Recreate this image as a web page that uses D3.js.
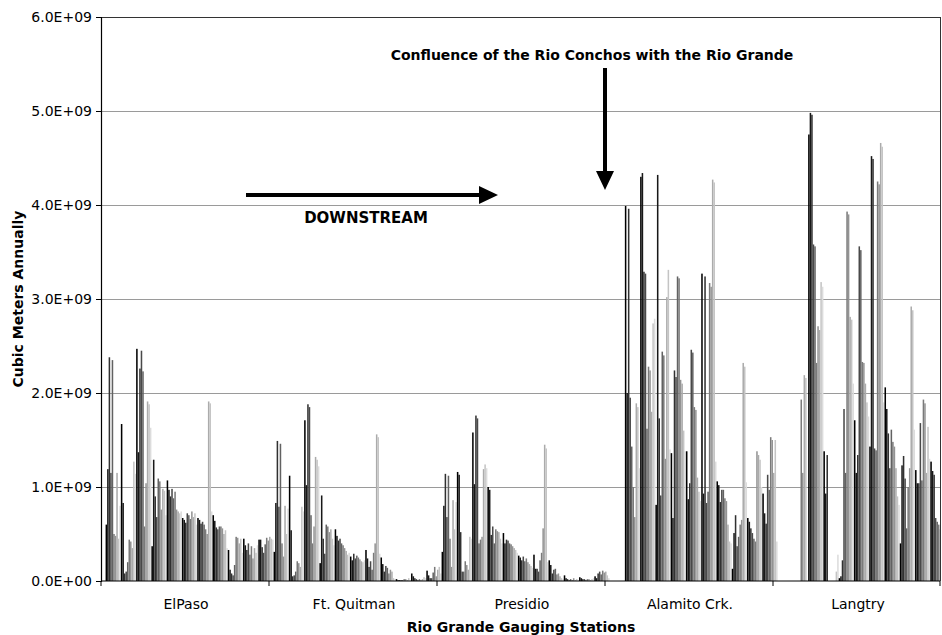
<!DOCTYPE html>
<html><head><meta charset="utf-8">
<script src="https://cdn.jsdelivr.net/npm/d3@7"></script>
<style>body{margin:0;background:#fff} svg{display:block}</style>
</head><body>
<svg id="chart" width="942" height="635"></svg>
<script>
// Gauging stations (categories) and annual series (years)
const stations = ["ElPaso", "Ft. Quitman", "Presidio", "Alamito Crk.", "Langtry"];
const years = d3.range(1897, 2007); // 110 annual series
const yTicks = [0, 1, 2, 3, 4, 5, 6]; // units of 1E+09 cubic meters
const yTickLabels = ["0.0E+00", "1.0E+09", "2.0E+09", "3.0E+09", "4.0E+09", "5.0E+09", "6.0E+09"];

// Annual flow, 1E+09 cubic meters, one value per year 1897..2006
const elPaso = [0, 0, 0,
  0.60, 1.19, 2.38, 1.15, 2.35, 0.50, 0.48, 1.15, 0.45, 0.80,
  1.67, 0.83, 0.08, 0.10, 0.20, 0.44, 0.42, 0.35, 1.27, 1.14,
  2.47, 1.37, 2.26, 2.45, 2.23, 0.58, 1.04, 1.91, 1.88, 1.63,
  0.37, 1.29, 0.90, 0.68, 1.09, 1.06, 0.76, 0.98, 0.96, 0.70,
  1.07, 0.97, 0.90, 0.98, 0.88, 0.95, 0.76, 0.74, 0.72, 0.74,
  0.67, 0.65, 0.62, 0.72, 0.70, 0.66, 0.74, 0.68, 0.72, 0.60,
  0.67, 0.65, 0.61, 0.63, 0.60, 0.55, 0.50, 1.91, 1.89, 0.74,
  0.70, 0.64, 0.57, 0.55, 0.58, 0.58, 0.56, 0.50, 0.54, 0.35,
  0.33, 0.12, 0.08, 0.06, 0.17, 0.47, 0.46, 0.40, 0.45, 0.30,
  0.45, 0.38, 0.33, 0.40, 0.28, 0.37, 0.24, 0.35, 0.30, 0.38,
  0.44, 0.44, 0.36, 0.30, 0.39, 0.46, 0.43];
const ftQuitman = [0.47, 0.45, 0.44,
  0.31, 0.83, 1.49, 0.79, 1.46, 0.40, 0.26, 0.80, 0.50, 0.77,
  1.12, 0.54, 0.05, 0.06, 0.10, 0.21, 0.19, 0.15, 0.79, 0.74,
  1.71, 1.02, 1.88, 1.85, 0.70, 0.40, 0.58, 1.32, 1.29, 1.22,
  0.19, 0.91, 0.45, 0.29, 0.60, 0.58, 0.52, 0.55, 0.45, 0.38,
  0.55, 0.48, 0.43, 0.45, 0.40, 0.38, 0.35, 0.32, 0.28, 0.30,
  0.26, 0.22, 0.29, 0.24, 0.27, 0.25, 0.23, 0.21, 0.20, 0.22,
  0.33, 0.24, 0.15, 0.21, 0.12, 0.30, 0.40, 1.56, 1.53, 0.29,
  0.25, 0.18, 0.10, 0.16, 0.14, 0.08, 0.12, 0.10, 0.03, 0.02,
  0.02, 0.01, 0.01, 0.01, 0.01, 0.02, 0.02, 0.01, 0.03, 0.01,
  0.08, 0.05, 0.03, 0.02, 0.01, 0.02, 0.01, 0.02, 0.04, 0.03,
  0.11, 0.06, 0.03, 0.03, 0.09, 0.15, 0.05];
const presidio = [0.12, 0.15, 0.08,
  0.31, 0.80, 1.14, 0.68, 1.12, 0.45, 0.15, 0.86, 0.55, 0.84,
  1.16, 1.13, 0.52, 0.10, 0.10, 0.21, 0.17, 0.12, 0.47, 0.45,
  1.58, 1.03, 1.76, 1.73, 0.40, 0.44, 0.47, 1.19, 1.24, 1.20,
  1.00, 0.97, 0.49, 0.58, 0.40, 0.55, 0.53, 0.52, 0.45, 0.40,
  0.51, 0.40, 0.44, 0.43, 0.40, 0.39, 0.37, 0.35, 0.33, 0.30,
  0.27, 0.25, 0.22, 0.26, 0.21, 0.24, 0.20, 0.18, 0.16, 0.14,
  0.28, 0.13, 0.13, 0.10, 0.22, 0.30, 0.56, 1.45, 1.41, 0.20,
  0.22, 0.17, 0.08, 0.12, 0.13, 0.07, 0.08, 0.05, 0.03, 0.02,
  0.06, 0.03, 0.02, 0.01, 0.02, 0.01, 0.03, 0.01, 0.02, 0.01,
  0.04, 0.03, 0.02, 0.02, 0.01, 0.02, 0.02, 0.01, 0.02, 0.03,
  0.05, 0.03, 0.08, 0.10, 0.07, 0.11, 0.09];
const alamito = [0.10, 0.06, 0.03,
  0, 0, 0, 0, 0, 0, 0, 0, 0, 0,
  3.99, 2.00, 3.96, 1.95, 1.43, 1.00, 0.68, 1.89, 1.85, 1.20,
  4.30, 4.34, 3.29, 3.27, 1.62, 2.28, 2.24, 1.80, 2.74, 2.79,
  0.81, 4.32, 1.73, 0.91, 2.44, 2.40, 1.30, 3.02, 3.31, 1.40,
  1.36, 0.67, 2.24, 2.17, 3.24, 3.22, 2.14, 2.10, 1.60, 1.38,
  1.38, 0.87, 1.04, 2.46, 2.43, 1.85, 1.82, 1.10, 0.95, 0.85,
  3.27, 0.93, 3.24, 0.83, 0.95, 3.17, 3.13, 4.27, 4.24, 1.27,
  1.06, 1.02, 0.84, 0.97, 0.97, 0.88, 0.85, 0.60, 0.42, 0.40,
  0.13, 0.51, 0.70, 0.37, 0.47, 0.60, 0.65, 2.32, 2.28, 1.05,
  0.67, 0.63, 0.56, 0.51, 0.45, 0.42, 1.38, 1.34, 1.29, 1.00,
  0.93, 0.72, 0.61, 1.13, 0.97, 1.53, 1.50];
const langtry = [1.15, 1.50, 0.42,
  0, 0, 0, 0, 0, 0, 0, 0, 0, 0,
  0, 0, 0, 0, 0, 1.93, 1.15, 2.19, 2.16, 0,
  4.75, 4.98, 4.96, 3.58, 3.56, 2.32, 2.71, 2.67, 3.18, 3.13,
  1.38, 0.93, 1.34, 0, 0, 0, 0, 0, 0.10, 0.28,
  0.03, 0.05, 0.22, 1.83, 1.15, 3.93, 3.90, 2.81, 2.78, 2.10,
  1.71, 1.15, 1.34, 3.56, 3.52, 2.33, 2.32, 2.10, 1.90, 1.75,
  1.43, 4.52, 4.49, 1.41, 1.39, 4.25, 4.22, 4.66, 4.62, 1.90,
  2.06, 1.83, 1.57, 1.20, 1.61, 1.48, 1.43, 1.20, 0.90, 0.81,
  0.40, 1.23, 1.33, 1.09, 0.56, 1.00, 1.20, 2.92, 2.88, 1.61,
  1.18, 1.04, 1.04, 1.68, 1.07, 1.93, 1.89, 1.15, 1.64, 1.30,
  1.27, 1.17, 1.13, 0.67, 0.63, 0.60, 0.55];
const flows = [elPaso, ftQuitman, presidio, alamito, langtry];

(function () {
const svg = d3.select("#chart");
const pL = 101, pR = 941, pT = 17, pB = 581;
const FONT = "DejaVu Sans, Verdana, sans-serif";

const x0 = d3.scaleBand().domain(stations).range([pL, pR]).paddingInner(0).paddingOuter(0);
const x1 = d3.scaleBand().domain(years).range([0, x0.bandwidth()]).padding(0);
const y = d3.scaleLinear().domain([0, 6]).range([pB, pT]);
const shade = d3.scaleLinear().domain([0, 9]).range(["#000000", "#dcdcdc"]).interpolate(d3.interpolateRgb);

// gridlines
svg.append("g").selectAll("line").data(yTicks.filter(d => d > 0 && d < 6)).join("line")
  .attr("x1", pL).attr("x2", pR - 1).attr("y1", d => y(d)).attr("y2", d => y(d))
  .attr("stroke", "#9a9a9a").attr("stroke-width", 1).attr("shape-rendering", "crispEdges");

// bars
const rows = [];
stations.forEach((s, i) => years.forEach((yr, j) => rows.push({s, yr, v: flows[i][j]})));
svg.append("g").selectAll("rect").data(rows.filter(d => d.v > 0)).join("rect")
  .attr("x", d => x0(d.s) + x1(d.yr))
  .attr("width", x1.bandwidth())
  .attr("y", d => y(d.v))
  .attr("height", d => y(0) - y(d.v))
  .attr("fill", d => shade(d.yr % 10));

// frame (top and right)
svg.append("path").attr("d", `M${pL},${y(6)}H${pR - 1}V${pB}`)
  .attr("fill", "none").attr("stroke", "#333").attr("stroke-width", 1).attr("shape-rendering", "crispEdges");

// y axis
const yAxis = svg.append("g").attr("transform", `translate(${pL},0)`)
  .call(d3.axisLeft(y).tickValues(yTicks).tickFormat((d, i) => yTickLabels[i]).tickSize(5).tickPadding(4));
yAxis.select(".domain").attr("stroke", "#000").attr("stroke-width", 1.2);
yAxis.selectAll("text").attr("font-family", FONT).attr("font-size", 14).attr("fill", "#000");

// x axis: baseline, boundary ticks, category labels
const xg = svg.append("g");
xg.append("line").attr("x1", pL).attr("x2", pR - 1).attr("y1", pB).attr("y2", pB)
  .attr("stroke", "#000").attr("stroke-width", 1.2);
const bounds = stations.map(s => x0(s)).concat([x0(stations[stations.length - 1]) + x0.bandwidth() - 1]);
xg.selectAll("line.tk").data(bounds).join("line").attr("class", "tk")
  .attr("x1", d => d).attr("x2", d => d).attr("y1", pB).attr("y2", pB + 5)
  .attr("stroke", "#000").attr("stroke-width", 1);
xg.selectAll("text").data(stations).join("text")
  .attr("x", d => x0(d) + x0.bandwidth() / 2 + 1).attr("y", 609)
  .attr("text-anchor", "middle").attr("font-family", FONT).attr("font-size", 14)
  .text(d => d);

// axis titles
svg.append("text").attr("x", (pL + pR) / 2).attr("y", 632).attr("text-anchor", "middle")
  .attr("font-family", FONT).attr("font-weight", "bold").attr("font-size", 14)
  .text("Rio Grande Gauging Stations");
svg.append("text").attr("transform", `translate(23,${(pT + pB) / 2}) rotate(-90)`).attr("text-anchor", "middle")
  .attr("font-family", FONT).attr("font-weight", "bold").attr("font-size", 14)
  .text("Cubic Meters Annually");

// annotations
svg.append("text").attr("x", 592).attr("y", 60).attr("text-anchor", "middle")
  .attr("font-family", FONT).attr("font-weight", "bold").attr("font-size", 14)
  .text("Confluence of the Rio Conchos with the Rio Grande");
svg.append("text").attr("x", 366).attr("y", 223).attr("text-anchor", "middle")
  .attr("font-family", FONT).attr("font-weight", "bold").attr("font-size", 15)
  .text("DOWNSTREAM");
svg.append("path").attr("d", "M246,193H479V186L498,195L479,204V197H246Z").attr("fill", "#000");
svg.append("path").attr("d", "M603,68H607V171H614L605,190L596,171H603Z").attr("fill", "#000");
})();
</script>
</body></html>
